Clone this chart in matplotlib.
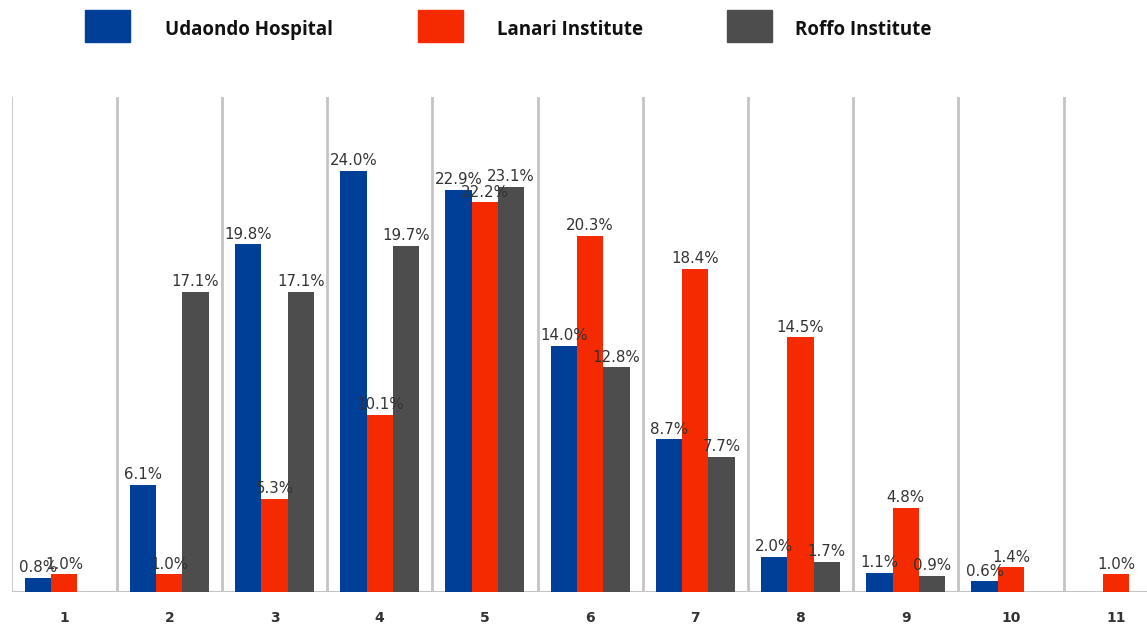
import matplotlib
matplotlib.use("Agg")
import matplotlib.pyplot as plt
import numpy as np

categories = ["1", "2", "3", "4", "5", "6", "7", "8", "9", "10", "11"]
udaondo = [0.8, 6.1, 19.8, 24.0, 22.9, 14.0, 8.7, 2.0, 1.1, 0.6, 0.0]
lanari = [1.0, 1.0, 5.3, 10.1, 22.2, 20.3, 18.4, 14.5, 4.8, 1.4, 1.0]
roffo = [0.0, 17.1, 17.1, 19.7, 23.1, 12.8, 7.7, 1.7, 0.9, 0.0, 0.0]
series_names = ["Udaondo Hospital", "Lanari Institute", "Roffo Institute"]
colors = ["#003f98", "#f52a00", "#4d4d4d"]

W, H = 1147, 624
fig = plt.figure(figsize=(W / 100, H / 100), dpi=100)
left_px, right_px, top_px, bottom_px = 11.5, 1147, 97, 592
ax = fig.add_axes([left_px / W, 1 - bottom_px / H, (right_px - left_px) / W, (bottom_px - top_px) / H])

x = np.arange(len(categories))
width = 0.25
offsets = [-width, 0, width]
for vals, off, col, name in zip([udaondo, lanari, roffo], offsets, colors, series_names):
    xs = [xi + off for xi, v in zip(x, vals) if v > 0]
    vs = [v for v in vals if v > 0]
    ax.bar(xs, vs, width=width, color=col, label=name, zorder=3)
    for xi, v in zip(xs, vs):
        ax.annotate(f"{v:.1f}%", (xi, v), xytext=(0, 2), textcoords="offset points",
                    ha="center", va="bottom", fontsize=10.8, color="#333333", zorder=4)

ax.set_xlim(-0.5, (right_px - left_px) / 105.2 - 0.5)
ax.set_ylim(0, 28.2)
for b in np.arange(-0.5, len(categories), 1.0):
    ax.axvline(b, color="#c4c4c4", lw=2, zorder=1)
ax.axhline(0, color="#c4c4c4", lw=1.5, zorder=2)
for s in ax.spines.values():
    s.set_visible(False)
ax.set_yticks([])
ax.set_xticks(x)
ax.set_xticklabels(categories, fontsize=10, fontweight="bold", color="#333333")
ax.tick_params(axis="x", length=0, pad=14)

# legend
leg_items = [(85, 165), (418, 497), (727, 795)]
for (sx, tx), col, name in zip(leg_items, colors, series_names):
    fig.patches.append(plt.Rectangle((sx / W, 1 - 42 / H), 45 / W, 32 / H,
                                     transform=fig.transFigure, color=col))
    fig.text(tx / W, 1 - 30 / H, name, fontsize=13.5, fontweight="bold", color="#111111",
             ha="left", va="center", family="Open Sans")

fig.savefig("out.png", dpi=100, facecolor="white")
